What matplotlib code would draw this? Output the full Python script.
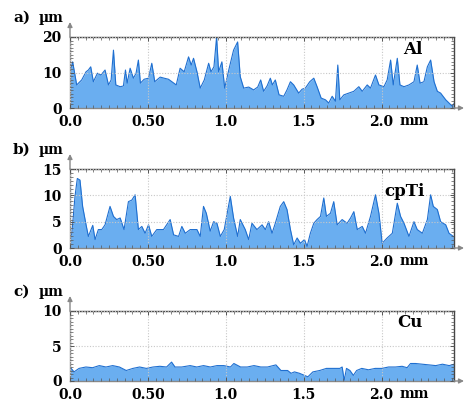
import matplotlib
matplotlib.use("Agg")
import matplotlib.pyplot as plt
from matplotlib.ticker import MultipleLocator
from matplotlib.transforms import offset_copy

# ---------------- data (mm, µm) ----------------
al_x = [0.000, 0.017, 0.043, 0.075, 0.103, 0.118, 0.133, 0.150, 0.176, 0.199, 0.225, 0.247, 0.264,
        0.279, 0.294, 0.322, 0.343, 0.356, 0.367, 0.386, 0.407, 0.424, 0.439, 0.452, 0.476, 0.504,
        0.525, 0.544, 0.579, 0.604, 0.632, 0.654, 0.682, 0.707, 0.733, 0.761, 0.778, 0.793, 0.815,
        0.836, 0.862, 0.890, 0.905, 0.924, 0.941, 0.954, 0.975, 0.993, 1.018, 1.050, 1.076, 1.093,
        1.115, 1.147, 1.179, 1.205, 1.224, 1.243, 1.265, 1.286, 1.299, 1.318, 1.342, 1.372, 1.393,
        1.415, 1.436, 1.468, 1.490, 1.511, 1.539, 1.565, 1.586, 1.612, 1.640, 1.661, 1.683, 1.704,
        1.719, 1.732, 1.758, 1.790, 1.822, 1.854, 1.876, 1.908, 1.929, 1.961, 1.983, 2.015, 2.036,
        2.058, 2.075, 2.101, 2.118, 2.144, 2.176, 2.208, 2.229, 2.247, 2.272, 2.294, 2.315, 2.337,
        2.358, 2.379, 2.412, 2.433, 2.454, 2.465]
al_y = [10.2, 13.0, 6.5, 7.9, 10.2, 10.7, 11.6, 7.4, 9.8, 9.3, 10.7, 6.5, 7.9,
        16.3, 6.5, 6.0, 6.2, 10.7, 7.0, 11.2, 8.4, 9.8, 13.5, 7.0, 8.1, 8.4,
        12.6, 7.4, 8.7, 8.4, 8.1, 7.4, 6.5, 11.2, 10.2, 14.4, 12.1, 14.0, 10.2,
        5.6, 7.9, 12.6, 10.2, 11.6, 20.0, 10.2, 13.0, 5.6, 10.5, 16.3, 18.6, 8.8,
        5.6, 5.9, 5.1, 5.9, 7.9, 4.7, 6.2, 8.4, 6.5, 7.9, 3.7, 3.3, 5.1,
        7.4, 6.5, 4.2, 5.3, 5.6, 7.4, 8.4, 6.0, 2.8, 2.3, 1.4, 3.3, 1.9,
        12.1, 2.3, 3.7, 4.2, 4.7, 6.0, 4.7, 6.5, 5.6, 9.3, 6.5, 6.0, 7.9,
        13.5, 6.5, 14.0, 6.5, 6.0, 6.5, 7.4, 12.1, 7.0, 7.4, 11.6, 13.5, 7.4,
        4.7, 4.2, 2.3, 1.4, 0.5, 1.2]

ti_px = [210, 215, 225, 232, 240, 248, 258, 265, 278, 285, 295, 305, 315, 330, 340, 350, 360, 372,
         385, 395, 405, 415, 425, 435, 445, 455, 470, 490, 510, 520, 535, 545, 555, 570, 590, 600,
         610, 618, 630, 640, 650, 660, 672, 690, 700, 712, 720, 735, 745, 755, 770, 785, 795, 805,
         815, 825, 840, 850, 860, 870, 880, 890, 900, 912, 920, 930, 940, 950, 960, 970, 978, 990,
         1000, 1010, 1025, 1040, 1050, 1060, 1070, 1085, 1095, 1110, 1125, 1135, 1145, 1160, 1175,
         1190, 1200, 1210, 1225, 1240, 1250, 1265, 1280, 1290, 1298, 1310, 1320, 1335, 1345, 1358]
ti_x = [round((p - 210) / 466.5, 3) for p in ti_px]
ti_y = [2.8, 2.5, 9.8, 13.2, 12.9, 7.9, 4.4, 2.2, 4.3, 1.6, 3.5, 3.5, 4.4, 7.9, 6.0, 5.4, 5.7, 3.5,
        8.8, 9.1, 10.1, 3.5, 4.1, 2.8, 4.4, 2.2, 3.5, 3.5, 5.4, 2.5, 2.2, 4.1, 2.8, 3.5, 3.5, 2.2,
        7.9, 6.6, 3.2, 5.0, 4.7, 2.2, 3.5, 9.8, 5.7, 2.2, 5.4, 3.5, 1.6, 4.7, 3.5, 4.4, 3.5, 5.0,
        2.8, 4.7, 7.9, 8.8, 7.3, 3.5, 0.6, 1.9, 0.9, 1.6, 0.3, 2.8, 4.7, 5.4, 6.0, 9.5, 6.0, 6.6,
        8.8, 4.4, 5.4, 4.7, 5.7, 6.9, 3.5, 4.1, 2.8, 6.0, 10.1, 6.6, 0.9, 1.9, 2.8,
        8.5, 6.0, 4.7, 2.2, 5.0, 3.5, 2.8, 5.4, 10.1, 7.9, 7.3, 5.0, 4.4, 2.8, 2.2]

cu_px = [213, 225, 240, 260, 280, 300, 320, 340, 360, 380, 400, 420, 440, 460, 480, 500, 515, 525,
         545, 570, 590, 610, 630, 650, 670, 690, 700, 720, 740, 760, 780, 800, 825, 840, 860, 870,
         880, 895, 910, 920, 935, 955, 975, 995, 1015, 1022, 1028, 1035, 1045, 1055, 1065, 1080,
         1100, 1120, 1140, 1160, 1180, 1200, 1215, 1225, 1240, 1260, 1280, 1300, 1320, 1340, 1362]
cu_x = [round((p - 213) / 463.0, 3) for p in cu_px]
cu_y = [2.0, 1.3, 1.8, 2.0, 1.9, 2.2, 2.0, 2.2, 2.0, 1.5, 1.8, 2.0, 1.8, 2.0, 2.1, 2.0, 2.7, 2.0,
        2.0, 2.2, 2.0, 2.2, 2.0, 2.2, 2.2, 2.0, 2.5, 2.0, 2.0, 2.2, 2.0, 2.0, 2.3, 1.5, 1.5, 1.1,
        1.3, 1.1, 0.8, 0.6, 1.3, 1.5, 1.8, 1.8, 1.8, 2.0, 0.1, 1.8, 1.5, 0.8, 1.5, 1.8,
        1.6, 1.8, 1.8, 2.0, 2.0, 2.1, 1.9, 2.5, 2.5, 2.4, 2.3, 2.2, 2.4, 2.2, 2.5]

panels = [
    dict(tag="a)", name="Al", x=al_x, y=al_y, ymax=20, yticks=[0, 10, 20], rect=(37, 108),
         npos=(0.893, 0.82)),
    dict(tag="b)", name="cpTi", x=ti_x, y=ti_y, ymax=15, yticks=[0, 5, 10, 15], rect=(169, 248),
         npos=(0.872, 0.71)),
    dict(tag="c)", name="Cu", x=cu_x, y=cu_y, ymax=10, yticks=[0, 5, 10], rect=(311, 381),
         npos=(0.885, 0.83)),
]
xticks = [0.0, 0.5, 1.0, 1.5, 2.0]
xticklabels = ["0.0", "0.50", "1.0", "1.5", "2.0"]
XMAX = 2.465

W, H = 467, 403
fig = plt.figure(figsize=(W / 100, H / 100), dpi=100)
SERIF = ["DejaVu Serif"]
fill_c = "#6aaef0"
line_c = "#1f6fd0"

XPAD = 5.0
for p in panels:
    top, bot = p["rect"]
    left, right = 70, 454
    ax = fig.add_axes([left / W, 1 - bot / H, (right - left) / W, (bot - top) / H])
    ax.fill_between(p["x"], p["y"], 0, color=fill_c, lw=0)
    ax.plot(p["x"], p["y"], color=line_c, lw=0.8)
    ax.set_xlim(0, XMAX)
    ax.set_ylim(0, p["ymax"])
    ax.set_xticks(xticks)
    ax.set_xticklabels(xticklabels)
    ax.set_yticks(p["yticks"])
    ax.xaxis.set_minor_locator(MultipleLocator(0.05))
    ax.yaxis.set_minor_locator(MultipleLocator(p["ymax"] / 20))
    ax.tick_params(which="both", direction="in", top=True, right=True, colors="#555555",
                   labelcolor="black")
    ax.tick_params(which="major", length=3, width=0.7)
    ax.tick_params(axis="x", which="major", pad=XPAD)
    ax.tick_params(axis="y", which="major", pad=6)
    ax.tick_params(which="minor", length=2, width=0.5)
    for lab in ax.get_xticklabels() + ax.get_yticklabels():
        lab.set_fontfamily(SERIF)
        lab.set_fontweight("bold")
        lab.set_fontsize(10)
    ax.grid(True, which="major", color="#c8c8c8", ls=(0, (1, 1.5)), lw=0.8)
    for s in ("top", "right"):
        ax.spines[s].set_color("#444444")
        ax.spines[s].set_linestyle((0, (1, 1)))
        ax.spines[s].set_linewidth(1.0)
    for s in ("left", "bottom"):
        ax.spines[s].set_color("#888888")
        ax.spines[s].set_linewidth(1.0)
    ax.set_axisbelow(False)
    # arrows
    ax.annotate("", xy=(0, 1 + 15 / (bot - top)), xytext=(0, 1), xycoords="axes fraction",
                arrowprops=dict(arrowstyle="-|>", color="#888888", lw=1.0,
                                mutation_scale=7, shrinkA=0, shrinkB=0), annotation_clip=False)
    ax.annotate("", xy=(1 + 10 / (right - left), 0), xytext=(1, 0), xycoords="axes fraction",
                arrowprops=dict(arrowstyle="-|>", color="#888888", lw=1.0,
                                mutation_scale=7, shrinkA=0, shrinkB=0), annotation_clip=False)
    # texts
    fig.text(13 / W, 1 - (top - 19) / H, p["tag"], fontfamily=SERIF, fontweight="bold",
             fontsize=11, ha="left", va="center")
    fig.text(39 / W, 1 - (top - 19) / H, "µm", fontfamily=SERIF, fontweight="bold",
             fontsize=10, ha="left", va="center")
    tr = offset_copy(ax.get_xaxis_transform(), fig=fig, y=-(XPAD + 7.3), units="points")
    ax.text(2.115, 0, "mm", transform=tr, fontfamily=SERIF,
            fontweight="bold", fontsize=10, ha="left", va="baseline")
    ax.text(p["npos"][0], p["npos"][1], p["name"], transform=ax.transAxes, fontfamily=SERIF,
            fontweight="bold", fontsize=12, ha="center", va="center")

fig.savefig("out.png", dpi=100)
